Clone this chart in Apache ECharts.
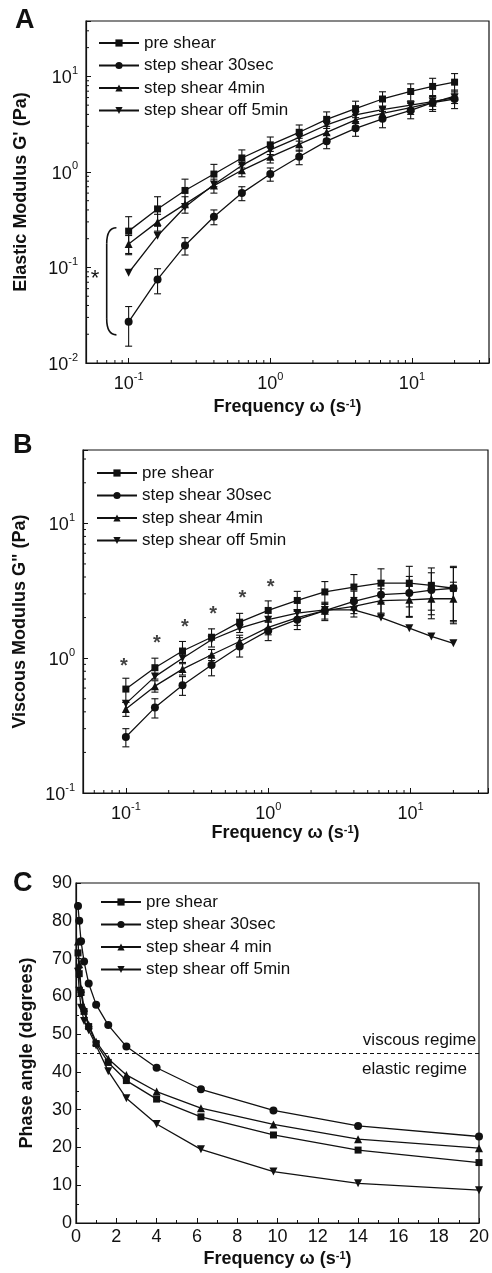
<!DOCTYPE html>
<html><head><meta charset="utf-8">
<script src="https://cdn.jsdelivr.net/npm/echarts@6/dist/echarts.min.js"></script>
<style>html,body{margin:0;padding:0;background:#fff}#c{width:492px;height:1273px}</style>
</head><body><div id="c"></div>
<script>
// ---------- data ----------
const freq = [0.1, 0.16, 0.25, 0.4, 0.63, 1.0, 1.6, 2.5, 4.0, 6.2, 9.8, 14, 20];
const namesAB = ['pre shear', 'step shear 30sec', 'step shear 4min', 'step shear off 5min'];
const namesC = ['pre shear', 'step shear 30sec', 'step shear 4 min', 'step shear off 5min'];

// Panel A: elastic modulus G' (Pa)
const gpPre  = [0.24, 0.41, 0.64, 0.95, 1.40, 1.92, 2.6, 3.55, 4.6, 5.8, 6.95, 7.85, 8.7];
const gp30s  = [0.027, 0.075, 0.17, 0.34, 0.6, 0.95, 1.44, 2.1, 2.86, 3.6, 4.4, 5.3, 5.8];
const gp4m   = [0.176, 0.30, 0.46, 0.72, 1.04, 1.44, 1.95, 2.6, 3.5, 4.1, 4.7, 5.3, 6.2];
const gpOff5 = [0.088, 0.215, 0.43, 0.74, 1.17, 1.7, 2.3, 3.1, 3.95, 4.5, 5.0, 5.45, 6.0];
const gpPreErr = [0.1, 0.14, 0.2, 0.25, 0.3, 0.4, 0.5, 0.7, 0.9, 1.1, 1.4, 1.7, 2.0];
const gp30sErr = [0.012, 0.022, 0.035, 0.06, 0.1, 0.15, 0.25, 0.35, 0.5, 0.7, 0.8, 1.0, 1.2];
const gp4mErr  = [0.04, 0.06, 0.09, 0.12, 0.15, 0.2, 0.3, 0.4, 0.5, 0.6, 0.7, 0.8, 1.0];

// Panel B: viscous modulus G'' (Pa)
const gppPre  = [0.59, 0.85, 1.13, 1.43, 1.85, 2.26, 2.68, 3.1, 3.37, 3.6, 3.6, 3.47, 3.3];
const gpp30s  = [0.26, 0.43, 0.63, 0.89, 1.22, 1.6, 1.93, 2.25, 2.64, 2.96, 3.04, 3.2, 3.3];
const gpp4m   = [0.42, 0.62, 0.83, 1.06, 1.33, 1.69, 2.0, 2.25, 2.42, 2.67, 2.71, 2.76, 2.76];
const gppOff5 = [0.46, 0.73, 1.0, 1.37, 1.67, 1.93, 2.16, 2.28, 2.28, 2.0, 1.67, 1.45, 1.29];
const gppPreErr = [0.12, 0.15, 0.2, 0.22, 0.3, 0.4, 0.45, 0.6, 0.8, 1.0, 1.2, 1.2, 1.5];
const gpp30sErr = [0.04, 0.07, 0.1, 0.15, 0.2, 0.25, 0.3, 0.35, 0.5, 0.8, 1.0, 1.1, 1.4];
const gpp4mErr  = [0.05, 0.06, 0.08, 0.1, 0.15, 0.2, 0.25, 0.3, 0.4, 0.6, 0.7, 0.8, 0.9];
const starsBx = [0.097, 0.165, 0.26, 0.41, 0.66, 1.04];
const starsBy = [0.95, 1.39, 1.85, 2.29, 3.0, 3.67];

// Panel C: phase angle (degrees)
const phPre  = [71.5, 66, 61, 56, 52, 47.5, 42.5, 37.7, 32.8, 28.1, 23.3, 19.3, 16.0];
const ph30s  = [83.9, 80, 74.6, 69.2, 63.4, 57.8, 52.4, 46.7, 41.1, 35.4, 29.8, 25.7, 22.9];
const ph4m   = [74.5, 68.5, 62, 57, 52.5, 48, 43.5, 39.2, 34.8, 30.4, 26.1, 22.2, 19.8];
const phOff5 = [66.5, 61.5, 57, 53.5, 51, 47, 40.2, 33.0, 26.2, 19.5, 13.6, 10.5, 8.7];
const regimeLine = 45;

// ---------- helpers ----------
const INK = '#111';
const FONT = 'Liberation Sans, Arial, sans-serif';
const chart = echarts.init(document.getElementById('c'), null, {renderer: 'canvas'});

function logLabel(v) {
  const e = Math.log10(v);
  if (Math.abs(e - Math.round(e)) > 1e-6) return '';
  return '{b|10}{s|' + Math.round(e) + '}';
}
const tickRich = {
  b: {fontSize: 18, fontFamily: FONT, color: INK, verticalAlign: 'bottom', lineHeight: 22},
  s: {fontSize: 11, fontFamily: FONT, color: INK, verticalAlign: 'top', lineHeight: 11}
};
const nameRich = {
  s: {fontSize: 11, fontWeight: 'bold', fontFamily: FONT, color: INK, verticalAlign: 'top', lineHeight: 11}
};
const axisLine = {lineStyle: {color: INK, width: 1.2}};
const axisTick = {inside: true, length: 5, lineStyle: {color: INK, width: 1}};
const nameStyle = {fontSize: 18, fontWeight: 'bold', fontFamily: FONT, color: INK, rich: nameRich};

function logX(g, min, max, gap) {
  return {type: 'log', logBase: 10, gridIndex: g, min: min, max: max,
    axisLine: axisLine, axisTick: axisTick, splitLine: {show: false},
    axisLabel: {formatter: logLabel, rich: tickRich, margin: 8},
    name: 'Frequency ω (s{s|-1})', nameLocation: 'middle', nameGap: gap, nameTextStyle: nameStyle};
}
function logY(g, min, max, name, gap) {
  return {type: 'log', logBase: 10, gridIndex: g, min: min, max: max,
    axisLine: axisLine, axisTick: axisTick, splitLine: {show: false},
    axisLabel: {formatter: logLabel, rich: tickRich, margin: 8},
    name: name, nameLocation: 'middle', nameGap: gap, nameTextStyle: nameStyle};
}

const symbols = [
  {symbol: 'rect', size: 7, rot: 0},
  {symbol: 'circle', size: 8, rot: 0},
  {symbol: 'triangle', size: 8, rot: 0},
  {symbol: 'triangle', size: 8, rot: 180}
];
function lineSeries(name, ys, k, g) {
  const s = symbols[k];
  return {type: 'line', name: name, xAxisIndex: g, yAxisIndex: g,
    data: freq.map((x, i) => [x, ys[i]]),
    symbol: s.symbol, symbolSize: s.size, symbolRotate: s.rot, showAllSymbol: true,
    lineStyle: {color: INK, width: 1.3}, itemStyle: {color: INK}, z: 3, animation: false};
}
function errSeries(ys, errs, g) {
  return {type: 'custom', xAxisIndex: g, yAxisIndex: g, silent: true, z: 2, animation: false,
    data: freq.map((x, i) => [x, ys[i] - errs[i], ys[i] + errs[i]]),
    renderItem: function (params, api) {
      const lo = api.coord([api.value(0), api.value(1)]);
      const hi = api.coord([api.value(0), api.value(2)]);
      const w = 3.5;
      const st = {stroke: INK, lineWidth: 1.1};
      return {type: 'group', children: [
        {type: 'line', shape: {x1: lo[0], y1: lo[1], x2: hi[0], y2: hi[1]}, style: st},
        {type: 'line', shape: {x1: lo[0] - w, y1: lo[1], x2: lo[0] + w, y2: lo[1]}, style: st},
        {type: 'line', shape: {x1: hi[0] - w, y1: hi[1], x2: hi[0] + w, y2: hi[1]}, style: st}
      ]};
    }};
}
// minor ticks for log axes (at 2..9 x 10^k), drawn through the axes' scales
function minorTicks(g, xMin, xMax, yMin, yMax) {
  const d = [];
  for (let k = -3; k <= 2; k++) for (let m = 2; m <= 9; m++) {
    const v = m * Math.pow(10, k);
    if (v > xMin && v < xMax) d.push([v, yMin, 0]);
    if (v > yMin && v < yMax) d.push([xMin, v, 1]);
  }
  return {type: 'custom', xAxisIndex: g, yAxisIndex: g, silent: true, z: 4, animation: false, clip: false,
    data: d,
    renderItem: function (params, api) {
      const p = api.coord([api.value(0), api.value(1)]);
      const dir = api.value(2);
      const L = 3;
      const shape = dir === 0 ? {x1: p[0], y1: p[1], x2: p[0], y2: p[1] - L}
                              : {x1: p[0], y1: p[1], x2: p[0] + L, y2: p[1]};
      return {type: 'line', shape: shape, style: {stroke: INK, lineWidth: 1}};
    }};
}

const legendBase = {orient: 'vertical', itemWidth: 40, itemHeight: 9, itemGap: 5.5, padding: 0,
  textStyle: {fontSize: 17, fontFamily: FONT, color: INK}, selectedMode: false};

const A = {xmin: 0.05, xmax: 35, ymin: 0.01, ymax: 38};
const B = {xmin: 0.05, xmax: 35, ymin: 0.1, ymax: 35};

const option = {
  backgroundColor: '#fff',
  animation: false,
  textStyle: {fontFamily: FONT},
  grid: [
    {left: 86, top: 21, width: 405, height: 342, show: true, borderColor: INK, borderWidth: 1.2},
    {left: 83, top: 450, width: 405, height: 343, show: true, borderColor: INK, borderWidth: 1.2},
    {left: 76, top: 883, width: 406, height: 340, show: true, borderColor: INK, borderWidth: 1.2}
  ],
  legend: [
    Object.assign({}, legendBase, {data: namesAB, left: 98, top: 34.5}),
    Object.assign({}, legendBase, {data: namesAB, left: 96, top: 464.5}),
    Object.assign({}, legendBase, {data: namesC, left: 100, top: 893.5})
  ],
  xAxis: [
    logX(0, A.xmin, A.xmax, 35),
    logX(1, B.xmin, B.xmax, 31),
    {type: 'value', gridIndex: 2, min: 0, max: 20, interval: 2,
      axisLine: axisLine, axisTick: axisTick, splitLine: {show: false},
      minorTick: {show: true, splitNumber: 2, length: 3, lineStyle: {color: INK}},
      axisLabel: {fontSize: 18, fontFamily: FONT, color: INK, margin: 5},
      name: 'Frequency ω (s{s|-1})', nameLocation: 'middle', nameGap: 27, nameTextStyle: nameStyle}
  ],
  yAxis: [
    logY(0, A.ymin, A.ymax, "Elastic Modulus G' (Pa)", 56),
    logY(1, B.ymin, B.ymax, 'Viscous Modulus G" (Pa)', 54),
    {type: 'value', gridIndex: 2, min: 0, max: 90, interval: 10,
      axisLine: axisLine, axisTick: axisTick, splitLine: {show: false},
      minorTick: {show: true, splitNumber: 2, length: 3, lineStyle: {color: INK}},
      axisLabel: {fontSize: 18, fontFamily: FONT, color: INK, margin: 4},
      name: 'Phase angle (degrees)', nameLocation: 'middle', nameGap: 40, nameTextStyle: nameStyle}
  ],
  series: [
    minorTicks(0, A.xmin, A.xmax, A.ymin, A.ymax),
    minorTicks(1, B.xmin, B.xmax, B.ymin, B.ymax),
    errSeries(gpPre, gpPreErr, 0), errSeries(gp30s, gp30sErr, 0), errSeries(gp4m, gp4mErr, 0),
    lineSeries(namesAB[0], gpPre, 0, 0), lineSeries(namesAB[1], gp30s, 1, 0),
    lineSeries(namesAB[2], gp4m, 2, 0), lineSeries(namesAB[3], gpOff5, 3, 0),
    errSeries(gppPre, gppPreErr, 1), errSeries(gpp30s, gpp30sErr, 1), errSeries(gpp4m, gpp4mErr, 1),
    lineSeries(namesAB[0], gppPre, 0, 1), lineSeries(namesAB[1], gpp30s, 1, 1),
    lineSeries(namesAB[2], gpp4m, 2, 1), lineSeries(namesAB[3], gppOff5, 3, 1),
    {type: 'scatter', xAxisIndex: 1, yAxisIndex: 1, silent: true, z: 5,
      data: starsBx.map((x, i) => [x, starsBy[i]]),
      symbol: 'circle', symbolSize: 1, itemStyle: {color: 'rgba(0,0,0,0)'},
      label: {show: true, position: 'inside', formatter: '*', fontSize: 20, fontWeight: 'bold',
        fontFamily: FONT, color: INK, offset: [0, 5]}},
    Object.assign(lineSeries(namesC[0], phPre, 0, 2), {markLine: {silent: true, symbol: 'none',
      label: {show: false}, lineStyle: {type: [4, 3], color: INK, width: 1.1},
      data: [{yAxis: regimeLine}]}}),
    lineSeries(namesC[1], ph30s, 1, 2),
    lineSeries(namesC[2], ph4m, 2, 2),
    lineSeries(namesC[3], phOff5, 3, 2)
  ]
};
chart.setOption(option);

// annotations placed through the axes' coordinate conversion
const brTop = chart.convertToPixel({gridIndex: 0}, [0.082, 0.26]);
const brMid = chart.convertToPixel({gridIndex: 0}, [0.070, 0.077]);
const brBot = chart.convertToPixel({gridIndex: 0}, [0.082, 0.0197]);
const starA = chart.convertToPixel({gridIndex: 0}, [0.058, 0.077]);
const xl = brMid[0], xr = brTop[0], yt = brTop[1], yb = brBot[1];
const visc = chart.convertToPixel({gridIndex: 2}, [17.05, 48.4]);
const elas = chart.convertToPixel({gridIndex: 2}, [16.8, 40.6]);
const tStyle = {fontFamily: FONT, fill: INK};
const brStyle = {stroke: INK, lineWidth: 1.6, fill: null};
chart.setOption({graphic: [
  {type: 'bezierCurve', shape: {x1: xr, y1: yt, x2: xl, y2: yt + 16, cpx1: xl, cpy1: yt}, style: brStyle},
  {type: 'line', shape: {x1: xl, y1: yt + 16, x2: xl, y2: yb - 16}, style: brStyle},
  {type: 'bezierCurve', shape: {x1: xl, y1: yb - 16, x2: xr, y2: yb, cpx1: xl, cpy1: yb}, style: brStyle},
  {type: 'text', x: starA[0], y: starA[1] + 1, style: Object.assign({text: '*', fontSize: 22, textAlign: 'center', textVerticalAlign: 'middle'}, tStyle)},
  {type: 'text', x: visc[0], y: visc[1], style: Object.assign({text: 'viscous regime', fontSize: 17, textAlign: 'center', textVerticalAlign: 'middle'}, tStyle)},
  {type: 'text', x: elas[0], y: elas[1], style: Object.assign({text: 'elastic regime', fontSize: 17, textAlign: 'center', textVerticalAlign: 'middle'}, tStyle)},
  {type: 'text', left: 15, top: 7, style: Object.assign({text: 'A', fontSize: 27, fontWeight: 'bold'}, tStyle)},
  {type: 'text', left: 13, top: 432, style: Object.assign({text: 'B', fontSize: 27, fontWeight: 'bold'}, tStyle)},
  {type: 'text', left: 13, top: 870, style: Object.assign({text: 'C', fontSize: 27, fontWeight: 'bold'}, tStyle)}
]});
</script></body></html>
